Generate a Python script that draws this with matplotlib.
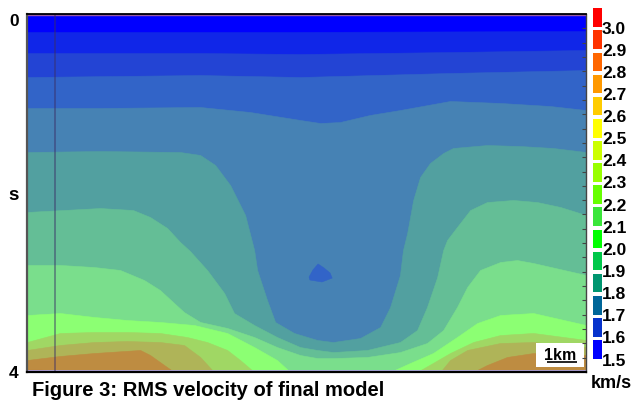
import numpy as np
import matplotlib
matplotlib.use("Agg")
import matplotlib.pyplot as plt
from matplotlib.patches import Rectangle
from matplotlib.ticker import MultipleLocator

plt.rcParams['font.family'] = ['Liberation Sans', 'DejaVu Sans']
plt.rcParams['font.weight'] = 'bold'

# Section extent: distance (km) and two-way time (s)
X_MAX = 18.63
T_MAX = 4.0

# Colour key (km/s)
key_values = [1.5, 1.6, 1.7, 1.8, 1.9, 2.0, 2.1, 2.2, 2.3, 2.4, 2.5, 2.6, 2.7, 2.8, 2.9, 3.0]
key_colors = ['#0000ff', '#0733cc', '#006699', '#009670', '#00c84a', '#00ff00',
              '#3ae63a', '#66ff00', '#99ff00', '#ccff00', '#ffff00', '#ffcc00',
              '#ff9900', '#ff6600', '#ff3300', '#ff0000']

# Fill colours of the RMS velocity bands, shallow to deep
band_colors = ['#0000ff', '#1026e8', '#2344d4', '#3264c8', '#4682b4', '#52a0a0',
               '#64be96', '#7ade8c', '#8cff73', '#a0d764', '#afb458', '#be8c41',
               '#c84638']

# Band boundaries: distance (km) and time (s) of each iso-velocity contour
x_b1 = [0.0, 9.0, 18.63]
t_b1 = [0.20, 0.20, 0.19]

x_b2 = [0.0, 5.77, 9.10, 14.10, 18.63]
t_b2 = [0.436, 0.436, 0.447, 0.425, 0.402]

x_b3 = [0.0, 5.77, 9.10, 14.10, 18.63]
t_b3 = [0.704, 0.682, 0.704, 0.659, 0.626]

x_b4 = [0.0, 2.43, 5.77, 7.43, 9.10, 9.77, 10.43, 11.43, 12.43, 14.10, 15.77, 17.43, 18.63]
t_b4 = [1.050, 1.050, 1.039, 1.095, 1.184, 1.218, 1.207, 1.128, 1.073, 0.972, 0.994, 1.028, 1.073]

x_b5 = [0.0, 2.43, 5.10, 5.77, 6.27, 6.77, 7.27, 7.57, 7.67, 8.00, 8.27, 8.90, 9.67,
        10.20, 11.10, 11.77, 12.10, 12.43, 12.53, 12.67, 12.87, 13.10, 13.43, 13.87,
        14.20, 15.33, 16.43, 17.53, 18.63]
t_b5 = [1.542, 1.531, 1.542, 1.575, 1.687, 1.911, 2.246, 2.637, 2.860, 3.196, 3.441,
        3.564, 3.642, 3.665, 3.620, 3.497, 3.274, 2.916, 2.637, 2.447, 2.078, 1.821,
        1.665, 1.553, 1.497, 1.464, 1.475, 1.497, 1.542]

x_b6 = [0.0, 2.43, 3.53, 4.10, 4.67, 5.10, 5.43, 6.00, 6.57, 6.90, 7.57, 8.33, 9.10,
        9.67, 10.20, 11.33, 12.43, 13.00, 13.33, 13.67, 13.87, 14.00, 14.33, 14.77,
        15.33, 16.20, 17.00, 17.77, 18.63]
t_b6 = [2.212, 2.168, 2.190, 2.268, 2.391, 2.547, 2.648, 2.860, 3.117, 3.341, 3.475,
        3.609, 3.721, 3.754, 3.777, 3.754, 3.665, 3.531, 3.274, 2.939, 2.637, 2.525,
        2.380, 2.190, 2.101, 2.078, 2.101, 2.156, 2.246]

x_b7 = [0.0, 1.10, 2.23, 3.10, 3.90, 4.43, 4.90, 5.23, 5.77, 6.67, 7.57, 8.33, 9.10,
        9.67, 10.20, 11.33, 12.43, 13.33, 13.87, 14.33, 14.67, 15.10, 15.77, 16.33,
        16.87, 18.63]
t_b7 = [2.804, 2.804, 2.827, 2.860, 2.972, 3.084, 3.229, 3.330, 3.441, 3.508, 3.609,
        3.721, 3.810, 3.844, 3.844, 3.832, 3.777, 3.676, 3.531, 3.274, 3.050, 2.860,
        2.771, 2.749, 2.782, 2.916]

x_b8 = [0.0, 1.10, 2.23, 3.33, 4.43, 5.57, 6.67, 7.57, 8.33, 8.77, 12.10, 12.77,
        13.53, 14.33, 15.00, 15.77, 16.87, 18.63]
t_b8 = [3.363, 3.341, 3.385, 3.419, 3.441, 3.475, 3.564, 3.721, 3.866, 4.0, 4.0, 3.899,
        3.788, 3.609, 3.453, 3.363, 3.341, 3.475]

x_b9 = [0.0, 1.10, 2.23, 3.33, 4.43, 5.33, 6.00, 6.67, 7.10, 7.57, 13.00, 13.53,
        14.10, 14.87, 15.77, 16.87, 18.63]
t_b9 = [3.665, 3.564, 3.553, 3.553, 3.564, 3.609, 3.665, 3.754, 3.866, 4.0, 4.0, 3.899,
        3.788, 3.665, 3.587, 3.564, 3.642]

x_b10 = [0.0, 1.10, 2.23, 3.33, 4.43, 5.23, 5.77, 6.23, 13.77, 14.10, 14.67, 15.77,
         16.87, 18.63]
t_b10 = [3.754, 3.698, 3.665, 3.654, 3.665, 3.698, 3.832, 4.0, 4.0, 3.866, 3.754,
         3.676, 3.665, 3.721]

x_b11 = [0.0, 1.10, 2.23, 3.77, 4.10, 4.57, 4.90, 14.87, 15.33, 16.00, 16.87, 18.63]
t_b11 = [3.866, 3.821, 3.788, 3.754, 3.810, 3.922, 4.0, 4.0, 3.922, 3.832, 3.788, 3.810]

x_b12 = [0.0, 0.50, 0.67, 0.75, 18.63]
t_b12 = [3.975, 3.975, 3.985, 4.0, 4.0]

# Small low-velocity pocket inside the trough
x_pocket = [9.70, 9.90, 10.10, 10.17, 9.83, 9.43, 9.40, 9.53]
t_pocket = [2.793, 2.838, 2.894, 2.950, 2.994, 2.972, 2.939, 2.860]

# Well location
x_well = 0.93

boundaries = [(x_b1, t_b1), (x_b2, t_b2), (x_b3, t_b3), (x_b4, t_b4), (x_b5, t_b5),
              (x_b6, t_b6), (x_b7, t_b7), (x_b8, t_b8), (x_b9, t_b9), (x_b10, t_b10),
              (x_b11, t_b11), (x_b12, t_b12)]

fig = plt.figure(figsize=(6.35, 4.03), dpi=100)
ax = fig.add_axes([27 / 635, 1 - 372 / 403, 559 / 635, 358 / 403])
ax.set_xlim(0, X_MAX)
ax.set_ylim(T_MAX, 0)

# Velocity bands: paint each band from its top contour down to the base
ax.axhspan(0, T_MAX, color=band_colors[0], lw=0)
for k, (xb, tb) in enumerate(boundaries):
    c = band_colors[k + 1]
    ax.fill_between(xb, tb, T_MAX, facecolor=c, edgecolor=c, lw=0.4)
ax.fill(x_pocket, t_pocket, facecolor=band_colors[3], edgecolor=band_colors[3], lw=0.4)

# Thin edge lines along top and base of section
ax.axhline(0.012, color='#9a5aa0', lw=1.0)
ax.axhline(3.985, color='#b4aaf0', lw=1.3)

# Well trace
ax.axvline(x_well, color='#3a2e66', alpha=0.5, lw=1.3)

# Scale bar
ax.add_patch(Rectangle((16.97, 3.676), 1.60, 0.268, facecolor='white', edgecolor='none'))
ax.text(17.77, 3.866, '1km', ha='center', va='baseline', fontsize=11.5, fontweight='bold')
ax.plot([17.33, 18.33], [3.89, 3.89], color='black', lw=1.2, solid_capstyle='butt')

# Frame and ticks
ax.set_xticks([])
ax.set_yticks([0, 2, 4])
ax.set_yticklabels(['0', 's', '4'])
ax.tick_params(axis='y', which='major', length=0, pad=6, labelsize=12.5)
ax.yaxis.set_minor_locator(MultipleLocator(0.16))
ax.tick_params(axis='y', which='minor', left=False, right=True, direction='in',
               length=3, width=0.8, color='#444444')
labels = ax.get_yticklabels()
labels[0].set_verticalalignment('top')
labels[1].set_fontsize(13.5)
ax.spines['left'].set_color('#555555')
ax.spines['left'].set_linewidth(1.6)
ax.spines['top'].set_color('black')
ax.spines['top'].set_linewidth(1.3)
ax.spines['bottom'].set_color('black')
ax.spines['bottom'].set_linewidth(1.6)
ax.spines['right'].set_color('#444444')
ax.spines['right'].set_linewidth(1.0)

# Colour key
block = 0.084
cax = fig.add_axes([590 / 635, 1 - 358.8 / 403, 45 / 635, 350.5 / 403])
cax.set_xlim(0, 45)
cax.set_ylim(key_values[0] - block, key_values[-1])
cax.axis('off')
for v, c in zip(key_values, key_colors):
    cax.add_patch(Rectangle((3, v - block), 9, block, facecolor=c, edgecolor='none'))
    cax.text(12.0, v - 0.094, f'{v:.1f}', ha='left', va='center', fontsize=12.5,
             fontweight='bold', clip_on=False)

fig.text(611.5 / 635, 1 - 384 / 403, 'km/s', ha='center', va='center', fontsize=13,
         fontweight='bold')
fig.text(32 / 635, 1 - 391 / 403, 'Figure 3: RMS velocity of final model', ha='left',
         va='center', fontsize=14.5, fontweight='bold')

fig.savefig('out.png', dpi=100)
